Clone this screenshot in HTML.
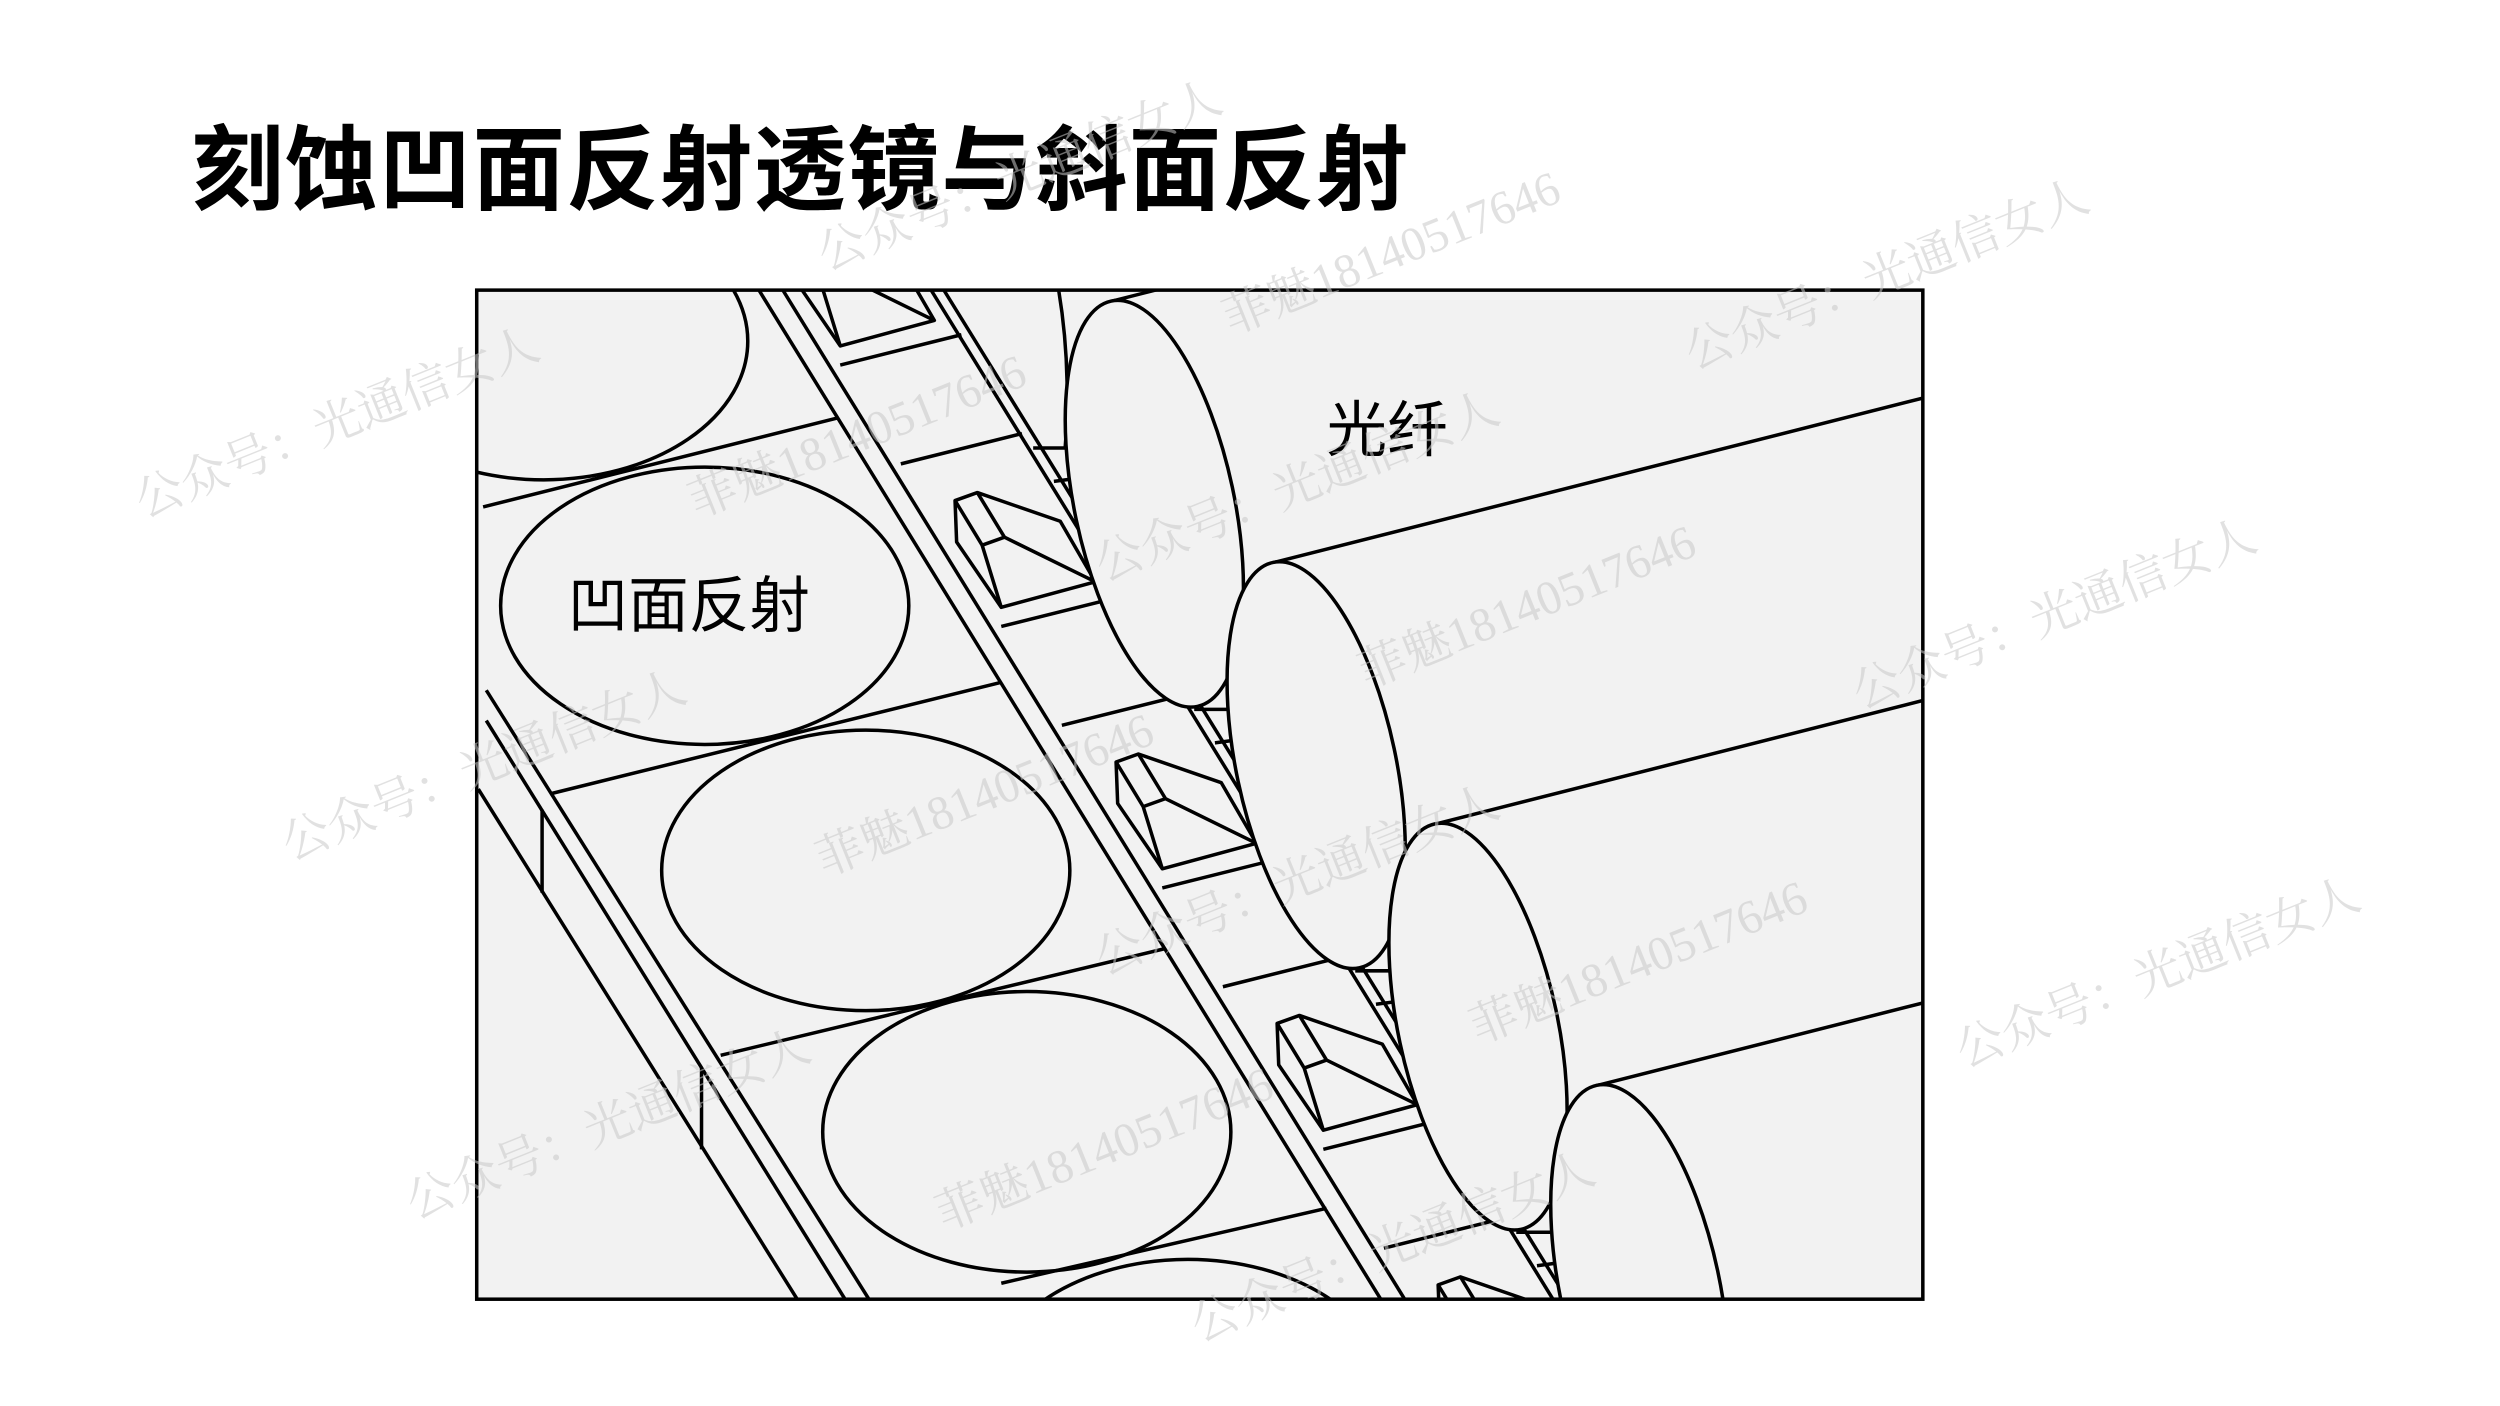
<!DOCTYPE html>
<html><head><meta charset="utf-8"><style>
html,body{margin:0;padding:0;background:#fff;width:2500px;height:1406px;overflow:hidden;}
svg{display:block;}
</style></head><body>
<svg width="2500" height="1406" viewBox="0 0 1568 882" preserveAspectRatio="none" xmlns="http://www.w3.org/2000/svg">
<defs><clipPath id="fr"><rect x="299" y="182" width="907" height="633"/></clipPath></defs>
<rect width="1568" height="882" fill="#fff"/>
<text x="120" y="127" font-family="'Liberation Sans','Noto Sans CJK SC',sans-serif" font-weight="700" font-size="58" letter-spacing="0.8" fill="#000">刻蚀凹面反射透镜与斜面反射</text>
<rect x="299" y="182" width="907" height="633" fill="#f2f2f2"/>
<g clip-path="url(#fr)" fill="none" stroke="#000" stroke-width="2.2" stroke-linejoin="round">
  <ellipse cx="341" cy="214" rx="128" ry="87"/>
  <ellipse cx="442" cy="380" rx="128" ry="87"/>
  <ellipse cx="543" cy="546" rx="128" ry="88"/>
  <ellipse cx="644" cy="710" rx="128" ry="88"/>
  <ellipse cx="745" cy="878" rx="128" ry="88"/>
  <line x1="303" y1="318" x2="526" y2="262"/>
  <line x1="345" y1="498" x2="628" y2="428"/>
  <line x1="452" y1="662" x2="731" y2="595"/>
  <line x1="628" y1="805" x2="832" y2="758"/>
  <line x1="305" y1="433" x2="545" y2="815"/>
  <line x1="305" y1="452" x2="530" y2="815"/>
  <line x1="300" y1="495" x2="500" y2="815"/>
  <line x1="340" y1="508" x2="340" y2="560"/>
  <line x1="440" y1="670" x2="440" y2="721"/>
  <line x1="476" y1="182" x2="866" y2="815"/>
  <line x1="491" y1="182" x2="881" y2="815"/>
  <line x1="584" y1="182" x2="974" y2="815"/>
  <line x1="592" y1="182" x2="983" y2="815"/>
  <g id="unit">
    <line x1="628" y1="393" x2="704" y2="374"/>
    <line x1="666" y1="455" x2="742" y2="436"/>
    <polygon points="599,314 613,309 665,327 687,365 628,381 600,340"/>
    <polyline points="599,314 616,342 628,381"/>
    <polyline points="613,309 630,337 687,365"/>
    <line x1="616" y1="342" x2="630" y2="337"/>
    <line x1="648" y1="281" x2="674" y2="281"/>
    <line x1="661" y1="302" x2="676" y2="300"/>
  </g>
  <use href="#unit" transform="translate(-101,-164)"/>
  <use href="#unit" transform="translate(101,164)"/>
  <use href="#unit" transform="translate(202,328)"/>
  <use href="#unit" transform="translate(303,492)"/>
  <path d="M664,182 Q672,230 668,282"/>
  <g fill="#f2f2f2">
    <g id="fib">
      <polygon points="697,189 1206,60 1206,313 751,443 724,316" stroke="none"/>
      <line x1="697" y1="189" x2="1206" y2="60"/>
      <ellipse cx="724" cy="316" rx="50" ry="130" transform="rotate(-12 724 316)"/>
    </g>
    <use href="#fib" transform="translate(101.5,164)"/>
    <use href="#fib" transform="translate(203,328)"/>
    <use href="#fib" transform="translate(304.5,492)"/>
  </g>
</g>
<rect x="299" y="182" width="907" height="633" fill="none" stroke="#000" stroke-width="2.2"/>
<g font-family="'Liberation Sans','Noto Sans CJK SC',sans-serif" font-size="38" fill="#000">
  <text x="356" y="393">凹面反射</text>
  <text x="832" y="283">光纤</text>
</g>
<g font-family="'Liberation Serif','Noto Serif CJK SC',serif" font-size="30" fill="#c8c8c8" fill-opacity="0.55">
  <text transform="translate(90,325) rotate(-22)">公众号：光通信女人</text>
  <text transform="translate(437,325) rotate(-22)">菲魅18140517646</text>
  <text transform="translate(518,170) rotate(-22)">公众号：光通信女人</text>
  <text transform="translate(772,210) rotate(-22)">菲魅18140517646</text>
  <text transform="translate(1062,232) rotate(-22)">公众号：光通信女人</text>
  <text transform="translate(182,540) rotate(-22)">公众号：光通信女人</text>
  <text transform="translate(692,365) rotate(-22)">公众号：光通信女人</text>
  <text transform="translate(857,432) rotate(-22)">菲魅18140517646</text>
  <text transform="translate(1167,445) rotate(-22)">公众号：光通信女人</text>
  <text transform="translate(517,550) rotate(-22)">菲魅18140517646</text>
  <text transform="translate(692,612) rotate(-22)">公众号：光通信女人</text>
  <text transform="translate(927,655) rotate(-22)">菲魅18140517646</text>
  <text transform="translate(1232,670) rotate(-22)">公众号：光通信女人</text>
  <text transform="translate(260,765) rotate(-22)">公众号：光通信女人</text>
  <text transform="translate(592,772) rotate(-22)">菲魅18140517646</text>
  <text transform="translate(752,842) rotate(-22)">公众号：光通信女人</text>
</g>
</svg>
</body></html>
